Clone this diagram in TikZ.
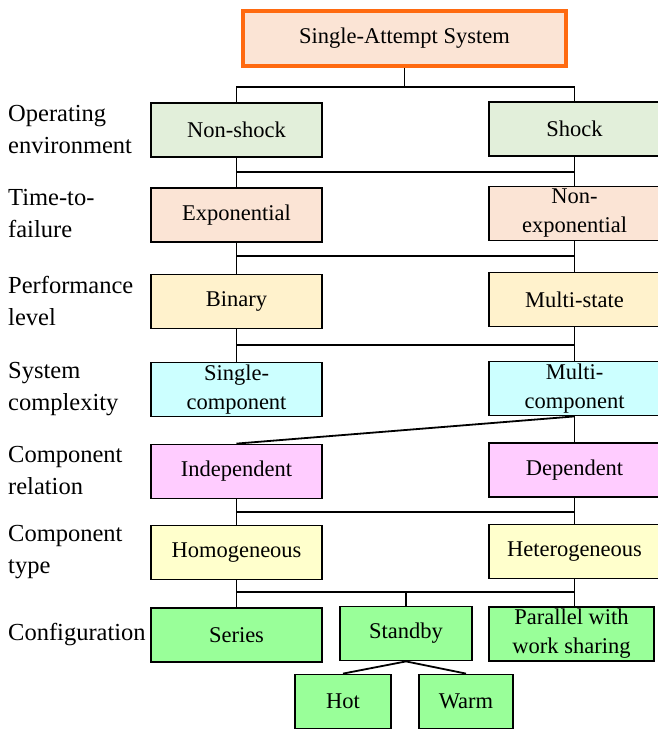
\documentclass[tikz,border=0pt]{standalone}
\usepackage{fontspec}
\setmainfont{Liberation Serif}
\definecolor{topfill}{HTML}{FBE4D5}
\definecolor{topline}{HTML}{FF6A10}
\definecolor{cgreen}{HTML}{E2EFDA}
\definecolor{cpeach}{HTML}{FBE4D5}
\definecolor{cgold}{HTML}{FFF2CC}
\definecolor{ccyan}{HTML}{CCFFFF}
\definecolor{cpink}{HTML}{FFCCFF}
\definecolor{cyel}{HTML}{FFFFCC}
\definecolor{cconf}{HTML}{99FF99}
\begin{document}
\begin{tikzpicture}[x=1pt,y=-1pt,
  font=\fontsize{22.5}{29}\selectfont,
  box/.style={draw=black, line width=1.8pt, minimum height=54, inner sep=0pt, align=center},
  lbox/.style={box, minimum width=171},
  catlabel/.style={anchor=west, align=left, inner sep=0pt, font=\fontsize{24.5}{32}\selectfont},
  conn/.style={line width=1.8pt}]
\useasboundingbox (0,0) rectangle (658,731);
% top
\node[draw=topline, line width=4pt, fill=topfill, minimum width=323, minimum height=55, inner sep=0pt] (top) at (404.5,38.5) {Single-Attempt System};
% rows
\node[lbox, fill=cgreen] (L1) at (236.5,130) {Non-shock};
\node[lbox, fill=cgreen] (R1) at (574.5,129) {Shock};
\node[lbox, fill=cpeach] (L2) at (236.5,215) {Exponential};
\node[lbox, fill=cpeach] (R2) at (574.5,213.5) {Non-\\exponential};
\node[lbox, fill=cgold] (L3) at (236.5,301.5) {Binary};
\node[lbox, fill=cgold] (R3) at (574.5,299.5) {Multi-state};
\node[lbox, fill=ccyan] (L4) at (236.5,389.5) {Single-\\component};
\node[lbox, fill=ccyan] (R4) at (574.5,388.5) {Multi-\\component};
\node[lbox, fill=cpink] (L5) at (236.5,471.5) {Independent};
\node[lbox, fill=cpink] (R5) at (574.5,470) {Dependent};
\node[lbox, fill=cyel] (L6) at (236.5,552.5) {Homogeneous};
\node[lbox, fill=cyel] (R6) at (574.5,551.5) {Heterogeneous};
\node[lbox, fill=cconf] (L7) at (236.5,635) {Series};
\node[box, fill=cconf, minimum width=132] (S7) at (406,633.5) {Standby};
\node[box, fill=cconf, minimum width=165] (R7) at (571.5,634) {Parallel with\\work sharing};
\node[box, fill=cconf, minimum width=96] (hot) at (343,701.5) {Hot};
\node[box, fill=cconf, minimum width=94] (warm) at (466,701.5) {Warm};
% category labels
\node[catlabel] (c1) at (8,129.5) {Operating\\environment};
\node[catlabel] (c2) at (8,214) {Time-to-\\failure};
\node[catlabel] (c3) at (8,300.5) {Performance\\level};
\node[catlabel] (c4) at (8,389) {System\\complexity};
\node[catlabel] (c5) at (8,471) {Component\\relation};
\node[catlabel] (c6) at (8,552) {Component\\type};
\node[catlabel] (c7) at (8,634.5) {Configuration};
% bar coordinates
\coordinate (b0) at (405,87);
\coordinate (b1) at (405,172);
\coordinate (b2) at (405,256);
\coordinate (b3) at (405,345);
\coordinate (b5) at (405,512);
\coordinate (b6) at (405,592);
% connectors
\draw[conn] (top.south) -- (top.south |- b0);
\draw[conn] (L1.north) -- (L1.north |- b0) -- (R1.north |- b0) -- (R1.north);
\draw[conn] (L1.south) -- (L2.north);
\draw[conn] (R1.south) -- (R2.north);
\draw[conn] (L1.south |- b1) -- (R1.south |- b1);
\draw[conn] (L2.south) -- (L3.north);
\draw[conn] (R2.south) -- (R3.north);
\draw[conn] (L2.south |- b2) -- (R2.south |- b2);
\draw[conn] (L3.south) -- (L4.north);
\draw[conn] (R3.south) -- (R4.north);
\draw[conn] (L3.south |- b3) -- (R3.south |- b3);
\draw[conn] (R4.south) -- (L5.north);
\draw[conn] (R4.south) -- (R5.north);
\draw[conn] (L5.south) -- (L6.north);
\draw[conn] (R5.south) -- (R6.north);
\draw[conn] (L5.south |- b5) -- (R5.south |- b5);
\draw[conn] (L6.south) -- (L7.north);
\draw[conn] (R6.south) -- (R6.south |- R7.north);
\draw[conn] (L6.south |- b6) -- (R6.south |- b6);
\draw[conn] (S7.north |- b6) -- (S7.north);
\draw[conn] (S7.south) -- (hot.north);
\draw[conn] (S7.south) -- (warm.north);
\end{tikzpicture}
\end{document}
